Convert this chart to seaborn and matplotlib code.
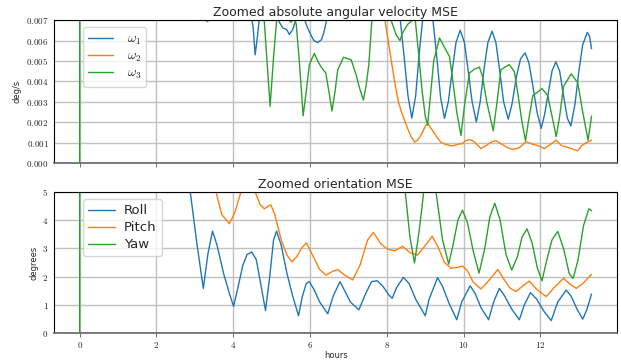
import matplotlib
matplotlib.use("Agg")
import matplotlib.pyplot as plt
from matplotlib.ticker import FuncFormatter, MultipleLocator
import seaborn as sns
import pandas as pd

# angular velocity MSE (deg/s)
w1_t = [0.01, 1.0, 2.0, 3.0, 4.0, 4.45, 4.52, 4.57, 4.63, 4.70, 4.9, 5.1, 5.20, 5.29, 5.39, 5.46,
        5.55, 5.64, 5.78, 5.90, 6.00, 6.10, 6.20, 6.30, 6.36, 6.43, 6.6, 7.0, 7.8, 8.2, 8.35, 8.45,
        8.55, 8.65, 8.75, 8.85, 8.93, 9.05, 9.20, 9.30, 9.40, 9.50, 9.60, 9.70, 9.80, 9.91, 10.02,
        10.12, 10.22, 10.33, 10.43, 10.53, 10.63, 10.74, 10.84, 10.94, 11.04, 11.16, 11.26, 11.37,
        11.48, 11.60, 11.70, 11.80, 11.91, 12.02, 12.11, 12.21, 12.30, 12.40, 12.50, 12.60, 12.70,
        12.79, 12.90, 13.00, 13.10, 13.22, 13.28, 13.33]
w1_v = [0.060, 0.030, 0.018, 0.011, 0.0085, 0.0075, 0.0066, 0.00530, 0.0062, 0.0075, 0.0085,
        0.0075, 0.0069, 0.00662, 0.00654, 0.00630, 0.00654, 0.0071, 0.0075, 0.0068, 0.00635, 0.00600,
        0.00590, 0.00605, 0.0064, 0.0070, 0.0085, 0.0095, 0.0090, 0.0078, 0.0070, 0.0052, 0.0033,
        0.00220, 0.0033, 0.0055, 0.0070, 0.0078, 0.0070, 0.0052, 0.0032, 0.00219, 0.0030, 0.0045,
        0.0059, 0.00651, 0.0059, 0.0045, 0.0030, 0.00202, 0.0030, 0.0046, 0.0059, 0.00646, 0.0059,
        0.0045, 0.0030, 0.00215, 0.0029, 0.0042, 0.0051, 0.00540, 0.0049, 0.0038, 0.0025, 0.00170,
        0.0024, 0.0035, 0.0045, 0.00496, 0.0045, 0.0033, 0.0022, 0.00182, 0.0029, 0.0045, 0.0058,
        0.00640, 0.0062, 0.00560]

w2_t = [0.01, 1.0, 2.0, 3.0, 4.0, 5.0, 6.0, 7.0, 7.6, 7.95, 8.05, 8.15, 8.22, 8.30, 8.38, 8.46,
        8.54, 8.63, 8.72, 8.80, 8.90, 9.00, 9.07, 9.15, 9.24, 9.33, 9.41, 9.55, 9.71, 9.85, 9.97,
        10.05, 10.15, 10.23, 10.32, 10.45, 10.60, 10.73, 10.84, 11.01, 11.15, 11.28, 11.45, 11.62,
        11.80, 11.95, 12.10, 12.25, 12.41, 12.55, 12.67, 12.85, 12.97, 13.07, 13.19, 13.33]
w2_v = [0.060, 0.035, 0.025, 0.020, 0.016, 0.013, 0.011, 0.0095, 0.0080, 0.0070, 0.0058, 0.0046,
        0.0038, 0.0030, 0.0025, 0.0021, 0.0017, 0.0013, 0.00103, 0.00112, 0.0014, 0.0018, 0.00193,
        0.0017, 0.00145, 0.0012, 0.00101, 0.00090, 0.00084, 0.00092, 0.00096, 0.00110, 0.00115,
        0.00110, 0.00096, 0.00071, 0.00088, 0.00104, 0.00110, 0.00090, 0.00075, 0.00067, 0.00075,
        0.00105, 0.00092, 0.00085, 0.00071, 0.00090, 0.00112, 0.00085, 0.00079, 0.00068, 0.00060,
        0.00085, 0.00099, 0.00112]

w3_t = [0, 0.01, 1.0, 2.0, 2.8, 3.2, 3.33, 3.45, 3.9, 4.5, 4.80, 4.86, 4.96, 5.05, 5.13, 5.22, 5.35,
        5.50, 5.60, 5.64, 5.72, 5.82, 5.90, 5.98, 6.11, 6.20, 6.28, 6.41, 6.50, 6.57, 6.65, 6.72,
        6.87, 7.07, 7.20, 7.30, 7.39, 7.46, 7.53, 7.61, 7.75, 8.0, 8.11, 8.24, 8.34, 8.41, 8.54,
        8.67, 8.74, 8.82, 8.92, 9.00, 9.06, 9.13, 9.22, 9.37, 9.50, 9.63, 9.72, 9.82, 9.93, 10.02,
        10.15, 10.28, 10.41, 10.49, 10.60, 10.77, 10.87, 10.97, 11.10, 11.19, 11.32, 11.42, 11.52,
        11.61, 11.70, 11.80, 12.04, 12.19, 12.30, 12.41, 12.50, 12.60, 12.80, 12.97, 13.10, 13.24,
        13.33]
w3_v = [0, 0.080, 0.030, 0.016, 0.0095, 0.0074, 0.00692, 0.0074, 0.0090, 0.0085, 0.0072, 0.0055,
        0.00278, 0.0052, 0.0070, 0.0075, 0.0073, 0.00690, 0.0071, 0.0068, 0.0050, 0.00232, 0.0035,
        0.00481, 0.00537, 0.0050, 0.00473, 0.00441, 0.0034, 0.00255, 0.0035, 0.00457, 0.00518,
        0.00506, 0.00432, 0.0036, 0.00309, 0.0038, 0.00482, 0.0070, 0.0085, 0.0080, 0.0070, 0.00629,
        0.00600, 0.00638, 0.00679, 0.00700, 0.0070, 0.0055, 0.0035, 0.0023, 0.00186, 0.0032, 0.0050,
        0.00613, 0.00567, 0.00522, 0.0040, 0.0025, 0.00135, 0.0028, 0.00441, 0.00460, 0.00470,
        0.00424, 0.0030, 0.00158, 0.0030, 0.00457, 0.00473, 0.00482, 0.00448, 0.0033, 0.0020,
        0.00110, 0.0022, 0.00330, 0.00365, 0.00330, 0.0023, 0.00130, 0.0023, 0.00375, 0.00437,
        0.00394, 0.0025, 0.00112, 0.00230]

# orientation MSE (degrees)
roll_t = [0.01, 0.5, 1.0, 1.5, 2.0, 2.5, 2.88, 3.05, 3.22, 3.34, 3.46, 3.58, 3.75, 3.90, 4.01,
          4.12, 4.25, 4.36, 4.48, 4.60, 4.72, 4.84, 4.95, 5.05, 5.13, 5.25, 5.40, 5.55, 5.70, 5.80,
          5.90, 5.98, 6.10, 6.25, 6.46, 6.60, 6.78, 6.90, 7.05, 7.27, 7.45, 7.60, 7.75, 7.90, 8.05,
          8.14, 8.25, 8.43, 8.58, 8.75, 9.00, 9.10, 9.32, 9.45, 9.62, 9.82, 9.95, 10.17, 10.30,
          10.45, 10.65, 10.78, 10.93, 11.05, 11.25, 11.45, 11.58, 11.74, 11.90, 12.10, 12.28, 12.45,
          12.67, 12.80, 12.95, 13.10, 13.20, 13.33]
roll_v = [50, 25, 15, 10, 7.5, 6.0, 5.0, 3.2, 1.58, 2.8, 3.61, 3.1, 2.1, 1.4, 0.94, 1.6, 2.4,
          2.78, 2.87, 2.6, 1.7, 0.80, 2.0, 3.3, 3.61, 3.1, 2.1, 1.3, 0.61, 1.3, 1.75, 1.82, 1.55,
          1.1, 0.68, 1.3, 1.82, 1.5, 1.1, 0.82, 1.4, 1.82, 1.85, 1.65, 1.35, 1.23, 1.6, 1.97, 1.75,
          1.2, 0.61, 1.2, 1.96, 1.65, 1.05, 0.47, 1.1, 1.67, 1.4, 0.9, 0.47, 1.1, 1.58, 1.35, 0.85,
          0.47, 1.0, 1.43, 1.2, 0.75, 0.44, 1.1, 1.52, 1.3, 0.85, 0.49, 0.8, 1.38]

pitch_t = [0.01, 1.0, 2.0, 3.0, 3.40, 3.55, 3.70, 3.90, 4.05, 4.20, 4.40, 4.57, 4.70, 4.81, 4.92,
           4.98, 5.08, 5.25, 5.40, 5.53, 5.65, 5.80, 5.91, 6.05, 6.25, 6.42, 6.58, 6.72, 6.90, 7.11,
           7.30, 7.50, 7.65, 7.85, 8.02, 8.20, 8.41, 8.60, 8.80, 9.00, 9.18, 9.35, 9.50, 9.67, 9.85,
           9.97, 10.10, 10.25, 10.45, 10.65, 10.89, 11.05, 11.20, 11.36, 11.55, 11.71, 11.90, 12.15,
           12.35, 12.60, 12.75, 12.93, 13.10, 13.33]
pitch_v = [60, 25, 12, 7, 5.5, 5.0, 4.2, 3.87, 4.3, 5.0, 5.5, 5.0, 4.55, 4.40, 4.50, 4.54, 4.2,
           3.3, 2.75, 2.52, 2.7, 3.05, 3.19, 2.8, 2.25, 2.05, 2.18, 2.25, 2.05, 1.88, 2.4, 3.3, 3.56,
           3.15, 2.97, 2.91, 3.07, 2.85, 2.76, 3.1, 3.43, 3.0, 2.5, 2.29, 2.33, 2.37, 2.2, 1.8, 1.56,
           1.85, 2.25, 1.9, 1.6, 1.47, 1.68, 1.84, 1.55, 1.29, 1.6, 1.94, 1.75, 1.58, 1.75, 2.08]

yaw_t = [0, 0.01, 1.0, 3.0, 5.0, 7.0, 8.0, 8.40, 8.48, 8.60, 8.72, 8.84, 8.96, 9.10, 9.28, 9.45,
         9.61, 9.72, 9.85, 9.97, 10.10, 10.25, 10.40, 10.55, 10.68, 10.81, 10.95, 11.10, 11.25,
         11.40, 11.52, 11.65, 11.78, 11.92, 12.04, 12.15, 12.30, 12.45, 12.60, 12.75, 12.85, 12.98,
         13.12, 13.26, 13.33]
yaw_v = [0, 80, 40, 20, 12, 8, 6.5, 5.5, 5.0, 3.4, 2.48, 3.6, 5.0, 6.0, 5.0, 3.3, 2.44, 3.1, 4.0,
         4.35, 3.9, 2.9, 2.12, 3.0, 4.1, 4.60, 4.0, 2.8, 2.23, 2.7, 3.4, 3.69, 3.2, 2.3, 1.85, 2.5,
         3.3, 3.60, 3.0, 2.1, 1.93, 2.6, 3.8, 4.40, 4.33]

vel_labels = [r"$\omega_1$", r"$\omega_2$", r"$\omega_3$"]
ori_labels = ["Roll", "Pitch", "Yaw"]
colors = ["#1f77b4", "#ff7f0e", "#2ca02c"]
hour_ticks = [0, 2, 4, 6, 8, 10, 12]


def long_frame(times, values, labels):
    rows = []
    for t, v, name in zip(times, values, labels):
        rows.append(pd.DataFrame({"hours": t, "value": v, "series": name}))
    return pd.concat(rows, ignore_index=True)


sns.set_style("whitegrid")
plt.rcParams["font.family"] = ["DejaVu Sans"]
plt.rcParams["mathtext.fontset"] = "cm"

fig = plt.figure(figsize=(6.21, 3.6), dpi=100)
ax1 = fig.add_axes([0.087, 0.547, 0.907, 0.397])
ax2 = fig.add_axes([0.087, 0.075, 0.907, 0.392], sharex=ax1)

vel = long_frame([w1_t, w2_t, w3_t], [w1_v, w2_v, w3_v], vel_labels)
ori = long_frame([roll_t, pitch_t, yaw_t], [roll_v, pitch_v, yaw_v], ori_labels)

sns.lineplot(data=vel, x="hours", y="value", hue="series", palette=colors,
             estimator=None, sort=False, linewidth=1.0, ax=ax1)
sns.lineplot(data=ori, x="hours", y="value", hue="series", palette=colors,
             estimator=None, sort=False, linewidth=1.0, ax=ax2)

tick_fmt3 = FuncFormatter(lambda v, p: r"$%.3f$" % v)
tick_fmt0 = FuncFormatter(lambda v, p: r"$%d$" % round(v))

for ax in (ax1, ax2):
    ax.set_xlim(-0.667, 14.0)
    ax.set_xticks(hour_ticks)
    ax.grid(True, color="#c0c0c0", linewidth=1.0)
    for s in ax.spines.values():
        s.set_color("black")
        s.set_linewidth(0.8)
    ax.spines["bottom"].set_color("#707070")
    ax.spines["bottom"].set_linewidth(1.3)
    ax.tick_params(axis="x", length=3, width=0.6, color="#555555", labelsize=6.5, pad=2,
                   bottom=True)
    ax.tick_params(axis="y", length=0, labelsize=6.5, pad=4)

ax1.set_ylim(0, 0.007)
ax1.yaxis.set_major_locator(MultipleLocator(0.001))
ax1.yaxis.set_major_formatter(tick_fmt3)
ax1.tick_params(axis="x", labelbottom=False)
ax1.set_xlabel("")
ax1.set_ylabel("deg/s", fontsize=6, labelpad=3)
ax1.set_title("Zoomed absolute angular velocity MSE", fontsize=9, pad=3)

ax2.set_ylim(0, 5)
ax2.yaxis.set_major_locator(MultipleLocator(1))
ax2.yaxis.set_major_formatter(tick_fmt0)
ax2.xaxis.set_major_formatter(tick_fmt0)
ax2.set_xlabel("hours", fontsize=6, labelpad=0.5)
ax2.set_ylabel("degrees", fontsize=6, labelpad=3)
ax2.set_title("Zoomed orientation MSE", fontsize=9, pad=3)

h1, _ = ax1.get_legend_handles_labels()
ax1.legend(h1, vel_labels, loc="upper left", bbox_to_anchor=(0.0515, 0.949), borderaxespad=0,
           fontsize=9.5, handlelength=1.9, labelspacing=0.22, borderpad=0.4, handletextpad=1.0,
           fancybox=True, framealpha=0.8, edgecolor="#cccccc")
h2, _ = ax2.get_legend_handles_labels()
ax2.legend(h2, ori_labels, loc="upper left", bbox_to_anchor=(0.0515, 0.95), borderaxespad=0,
           fontsize=9.5, handlelength=2.0, labelspacing=0.3, borderpad=0.4, handletextpad=0.7,
           fancybox=True, framealpha=0.8, edgecolor="#cccccc")

fig.savefig("out.png", dpi=100)
